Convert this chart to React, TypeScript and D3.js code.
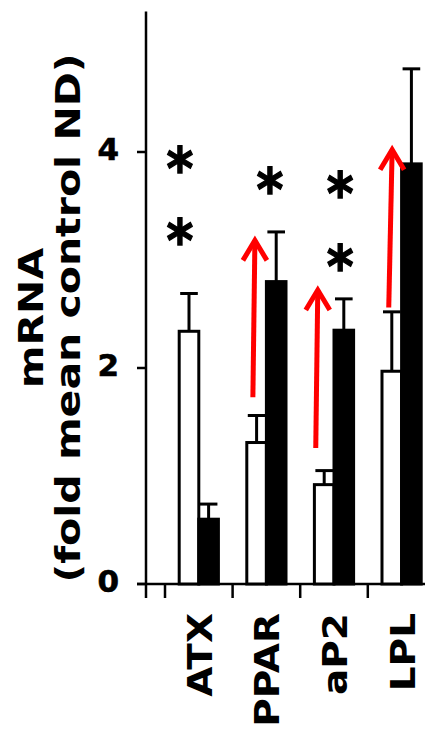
import * as d3 from "d3";

// gene categories on the x axis
const categories = ["ATX", "PPAR", "aP2", "LPL"];
// open bars (control ND) and filled bars (treated)
const openValues = [2.34, 1.31, 0.92, 1.97];
const openErrors = [0.35, 0.25, 0.13, 0.55];
const filledValues = [0.6, 2.8, 2.35, 3.89];
const filledErrors = [0.14, 0.46, 0.29, 0.88];
const yTicks = [0, 2, 4];

// significance stars: category, value, offset within band (fraction of band)
const starCats = ["ATX", "ATX", "PPAR", "aP2", "aP2"];
const starValues = [3.95, 3.29, 3.76, 3.72, 3.05];
const starShift = [-0.28, -0.28, 0.05, 0.09, 0.09];

// red arrows: category, start value, end value, shift at start/end (fraction of band)
const arrowCats = ["PPAR", "aP2", "LPL"];
const arrowFrom = [1.73, 1.26, 2.56];
const arrowTo = [3.2, 2.74, 4.04];
const arrowShiftFrom = [-0.2, -0.27, -0.19];
const arrowShiftTo = [-0.17, -0.24, -0.14];

const FONT = "'DejaVu Sans', Verdana, sans-serif";

export default function App() {
  const width = 425;
  const height = 733;

  const x = d3.scaleBand<string>().domain(categories).range([165, 435.4]).padding(0);
  const y = d3.scaleLinear().domain([0, 5.3]).range([584, 11.6]);

  const bw = x.bandwidth() * 0.29;
  const cap = bw * 0.9;
  const cx = (c: string) => x(c)! + x.bandwidth() / 2;

  const x0 = y(0);
  const axisX = 146;

  return (
    <svg
      width={width}
      height={height}
      style={{ position: "absolute", left: 0, top: 0, background: "#fff" }}
    >
      {/* y axis */}
      <line x1={axisX} x2={axisX} y1={y(5.3)} y2={x0 + 14} stroke="#000" strokeWidth={2.5} />
      {yTicks.map((t) => (
        <g key={t}>
          <line x1={axisX - 9} x2={axisX} y1={y(t)} y2={y(t)} stroke="#000" strokeWidth={2.5} />
          <text
            x={119}
            y={y(t) + 8}
            textAnchor="end"
            fontFamily={FONT}
            fontWeight="bold"
            fontSize={31}
            stroke="#000"
            strokeWidth={0.6}
          >
            {t}
          </text>
        </g>
      ))}

      {/* y title */}
      <text
        transform={`translate(43,318) rotate(-90) scale(1,0.8)`}
        textAnchor="middle"
        fontFamily={FONT}
        fontWeight="bold"
        fontSize={41}
      >
        mRNA
      </text>
      <text
        transform={`translate(80,318) rotate(-90) scale(1,0.8)`}
        textAnchor="middle"
        fontFamily={FONT}
        fontWeight="bold"
        fontSize={41}
      >
        (fold mean control ND)
      </text>

      {/* x axis */}
      <line x1={axisX - 9} x2={width} y1={x0} y2={x0} stroke="#000" strokeWidth={2.5} />
      {categories.map((c) => (
        <line
          key={"t" + c}
          x1={x(c)!}
          x2={x(c)!}
          y1={x0}
          y2={x0 + 14}
          stroke="#000"
          strokeWidth={2.5}
        />
      ))}
      {categories.map((c) => (
        <text
          key={"l" + c}
          transform={`translate(${cx(c) + 13},613) rotate(-90) scale(1,0.85)`}
          textAnchor="end"
          fontFamily={FONT}
          fontWeight="bold"
          fontSize={39}
        >
          {c}
        </text>
      ))}

      {/* bars */}
      {categories.map((c, i) => {
        const ox = cx(c) - bw;
        const fx = cx(c);
        return (
          <g key={"b" + c}>
            <line
              x1={ox + bw / 2}
              x2={ox + bw / 2}
              y1={y(openValues[i])}
              y2={y(openValues[i] + openErrors[i])}
              stroke="#000"
              strokeWidth={3}
            />
            <line
              x1={ox + bw / 2 - cap / 2}
              x2={ox + bw / 2 + cap / 2}
              y1={y(openValues[i] + openErrors[i])}
              y2={y(openValues[i] + openErrors[i])}
              stroke="#000"
              strokeWidth={3}
            />
            <rect
              x={ox}
              y={y(openValues[i])}
              width={bw}
              height={x0 - y(openValues[i])}
              fill="#fff"
              stroke="#000"
              strokeWidth={3}
            />
            <line
              x1={fx + bw / 2}
              x2={fx + bw / 2}
              y1={y(filledValues[i])}
              y2={y(filledValues[i] + filledErrors[i])}
              stroke="#000"
              strokeWidth={3}
            />
            <line
              x1={fx + bw / 2 - cap / 2}
              x2={fx + bw / 2 + cap / 2}
              y1={y(filledValues[i] + filledErrors[i])}
              y2={y(filledValues[i] + filledErrors[i])}
              stroke="#000"
              strokeWidth={3}
            />
            <rect
              x={fx}
              y={y(filledValues[i])}
              width={bw}
              height={x0 - y(filledValues[i])}
              fill="#000"
              stroke="#000"
              strokeWidth={3}
            />
          </g>
        );
      })}

      {/* stars */}
      {starCats.map((c, i) => (
        <text
          key={"s" + i}
          transform={`translate(${cx(c) + starShift[i] * x.bandwidth()},${y(starValues[i]) + 32}) scale(0.95,1.1)`}
          textAnchor="middle"
          fontFamily={FONT}
          fontWeight="bold"
          fontSize={54}
          stroke="#000"
          strokeWidth={1.2}
        >
          *
        </text>
      ))}

      {/* arrows */}
      {arrowCats.map((c, i) => {
        const xa = cx(c) + arrowShiftFrom[i] * x.bandwidth();
        const xb = cx(c) + arrowShiftTo[i] * x.bandwidth();
        const ya = y(arrowFrom[i]);
        const yb = y(arrowTo[i]);
        return (
          <g key={"a" + c} stroke="#ff0000" strokeWidth={5} fill="none" strokeLinecap="butt">
            <line x1={xa} x2={xb} y1={ya} y2={yb + 2} />
            <path
              d={`M${xb - 12},${yb + 22} L${xb},${yb + 2} L${xb + 12},${yb + 22}`}
              strokeLinejoin="miter"
            />
          </g>
        );
      })}
    </svg>
  );
}
